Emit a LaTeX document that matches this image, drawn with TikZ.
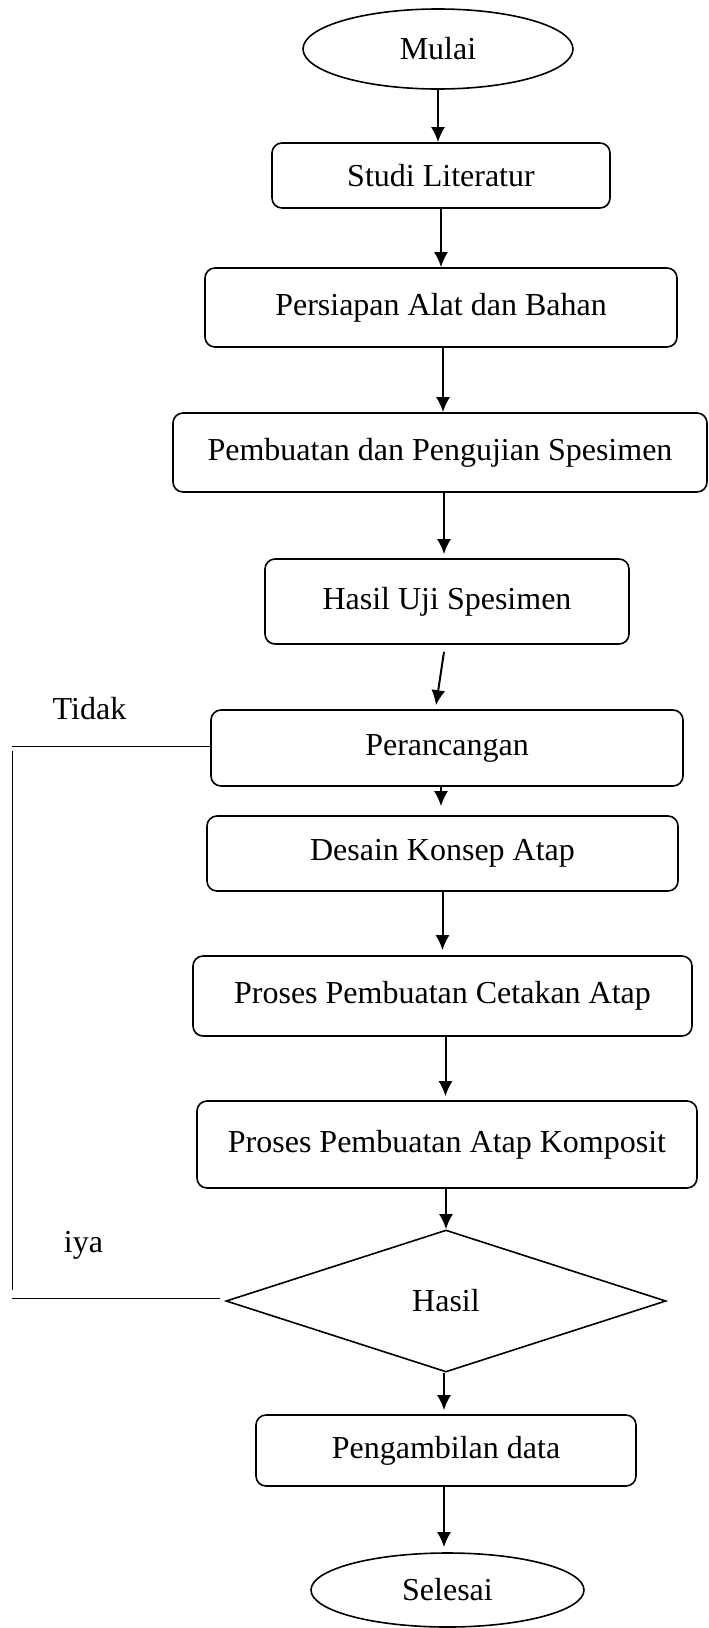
\documentclass[tikz,border=0pt]{standalone}
\usepackage{fontspec}
\setmainfont{Liberation Serif}
\usetikzlibrary{arrows.meta,shapes.geometric}

\begin{document}
\begin{tikzpicture} [x = 1pt, y = -1pt, >={Latex[length=15pt,width=14pt]},
	kotak/.style = {draw, rounded corners = 10pt, line width = 1.6pt, inner sep = 0pt, font = \fontsize{32}{38}\selectfont},
	oval/.style = {draw, ellipse, line width = 1.6pt, inner sep = 0pt, font = \fontsize{32}{38}\selectfont},
	panah/.style = {->, line width = 2pt},
	garis/.style = {line width = 0.9pt}]
	\useasboundingbox (0,0) rectangle (709,1628);
	\node [oval, minimum width = 270, minimum height = 80] (mulai) at (438,49) {Mulai};
	\node [kotak, minimum width = 338, minimum height = 65] (studi) at (441,175.5) {Studi Literatur};
	\node [kotak, minimum width = 472, minimum height = 79] (persiapan) at (441,307.5) {Persiapan Alat dan Bahan};
	\node [kotak, minimum width = 534, minimum height = 79] (pembuatan) at (440,452.5) {Pembuatan dan Pengujian Spesimen};
	\node [kotak, minimum width = 364, minimum height = 85] (hasiluji) at (447,601.5) {Hasil Uji Spesimen};
	\node [kotak, minimum width = 472, minimum height = 76] (perancangan) at (447,748) {Perancangan};
	\node [kotak, minimum width = 471, minimum height = 75] (desain) at (442.5,853.5) {Desain Konsep Atap};
	\node [kotak, minimum width = 499, minimum height = 80] (cetakan) at (442.5,996) {Proses Pembuatan Cetakan Atap};
	\node [kotak, minimum width = 500, minimum height = 87] (komposit) at (447,1144.5) {Proses Pembuatan Atap Komposit};
	\node [draw, diamond, line width = 1.6pt, inner sep = 0pt, minimum width = 440, minimum height = 142, font = \fontsize{32}{38}\selectfont] (hasil) at (446,1301) {Hasil};
	\node [kotak, minimum width = 380, minimum height = 71] (pengambilan) at (446,1450.5) {Pengambilan data};
	\node [oval, minimum width = 273, minimum height = 74] (selesai) at (447.5,1590) {Selesai};
	\node [font = \fontsize{32}{38}\selectfont] (tidak) at (89.5,709) {Tidak};
	\node [font = \fontsize{32}{38}\selectfont] (iya) at (83.5,1245) {iya};
	\draw [panah] (mulai) -- (mulai |- studi.north);
	\draw [panah] (studi) -- (studi |- persiapan.north);
	\draw [panah] ([xshift = 2pt]persiapan.south) -- ([xshift = 2pt]persiapan.south |- pembuatan.north);
	\draw [panah, shorten > = 4pt] ([xshift = 4pt]pembuatan.south) -- ([xshift = 4pt]pembuatan.south |- hasiluji.north);
	\draw [panah] ([xshift = -3pt, yshift = -7pt]hasiluji.south) -- ([xshift = -11pt, yshift = 4pt]perancangan.north);
	\draw [panah, shorten > = 9pt] ([xshift = -6pt]perancangan.south) -- ([xshift = -6pt]perancangan.south |- desain.north);
	\draw [panah, shorten > = 5pt] (desain) -- (desain |- cetakan.north);
	\draw [panah, shorten > = 4pt] ([xshift = 3pt]cetakan.south) -- ([xshift = 3pt]cetakan.south |- komposit.north);
	\draw [panah] ([xshift = -1pt]komposit.south) -- (hasil.north);
	\draw [panah, shorten > = 4pt] ([xshift = -2pt]hasil.south) -- ([xshift = -2pt]hasil.south |- pengambilan.north);
	\draw [panah, shorten > = 5pt] ([xshift = -2pt]pengambilan.south) -- ([xshift = -2pt]pengambilan.south |- selesai.north);
	% garis kembali
	\coordinate (ujungatas) at (12,746);
	\coordinate (ujungbawah) at (12,1298);
	\draw [garis] ([yshift = 2pt]perancangan.west) -- (ujungatas);
	\draw [garis] ([yshift = -5pt]ujungatas) -- ([yshift = 8pt]ujungbawah);
	\draw [garis, shorten < = 5pt] ([yshift = 3pt]hasil.west) -- (ujungbawah);
\end{tikzpicture}
\end{document}
